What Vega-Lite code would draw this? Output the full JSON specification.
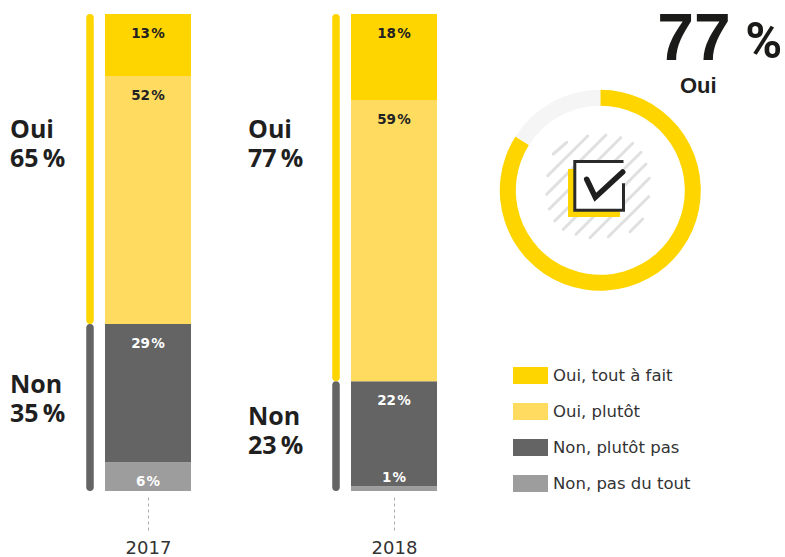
{
"$schema":"https://vega.github.io/schema/vega-lite/v6.json",
"width":785,"height":557,"padding":0,"autosize":"none","background":"white",
"config":{"view":{"stroke":null}},
"datasets":{
"segments":[
{"year":"2017","series":"Non, pas du tout","ord":1,"pct":6,"label":"6\u200a%","group":"Non"},
{"year":"2017","series":"Non, plutôt pas","ord":2,"pct":29,"label":"29\u200a%","group":"Non"},
{"year":"2017","series":"Oui, plutôt","ord":3,"pct":52,"label":"52\u200a%","group":"Oui"},
{"year":"2017","series":"Oui, tout à fait","ord":4,"pct":13,"label":"13\u200a%","group":"Oui"},
{"year":"2018","series":"Non, pas du tout","ord":1,"pct":1,"label":"1\u200a%","group":"Non"},
{"year":"2018","series":"Non, plutôt pas","ord":2,"pct":22,"label":"22\u200a%","group":"Non"},
{"year":"2018","series":"Oui, plutôt","ord":3,"pct":59,"label":"59\u200a%","group":"Oui"},
{"year":"2018","series":"Oui, tout à fait","ord":4,"pct":18,"label":"18\u200a%","group":"Oui"}],
"totals":[
{"year":"2017","group":"Non","ord":1,"share":35,"label":"Non\n35\u2009%"},
{"year":"2017","group":"Oui","ord":2,"share":65,"label":"Oui\n65\u2009%"},
{"year":"2018","group":"Non","ord":1,"share":23,"label":"Non\n23\u2009%"},
{"year":"2018","group":"Oui","ord":2,"share":77,"label":"Oui\n77\u2009%"}],
"ring":[{"answer":"Oui","ord":1,"share":84},{"answer":"Reste","ord":2,"share":16}]
},
"resolve":{"scale":{"x":"independent","y":"independent","color":"independent","fill":"independent","theta":"independent"}},
"layer":[
{"layer":[
 {"data":{"name":"segments"},
  "transform":[{"stack":"pct","groupby":["year"],"sort":[{"field":"ord","order":"ascending"}],"as":["y0","y1"]}],
  "mark":{"type":"bar","width":86},
  "encoding":{
   "x":{"field":"year","type":"nominal","scale":{"type":"point","domain":["2017","2018"],"range":[148,394],"padding":0},
     "axis":{"title":null,"orient":"bottom","offset":-60,"domain":false,"tickSize":33,"tickDash":[3,3],"tickColor":"#aaaaaa","tickWidth":1,"labelPadding":9,"labelAngle":0,"labelFont":"DejaVu Sans","labelFontSize":18,"labelColor":"#333333","grid":false}},
   "y":{"field":"y1","type":"quantitative","scale":{"domain":[-13.84,102.94],"nice":false,"zero":false},"axis":null},
   "y2":{"field":"y0"},
   "color":{"field":"series","type":"nominal",
     "scale":{"domain":["Oui, tout à fait","Oui, plutôt","Non, plutôt pas","Non, pas du tout"],"range":["#FFD500","#FFDC60","#646464","#9D9D9D"]},
     "legend":{"title":null,"orient":"none","legendX":513,"legendY":358,"symbolType":"M-1,-0.486H1V0.486H-1Z","symbolSize":1225,"symbolStrokeWidth":0,"rowPadding":9,"labelOffset":5,"labelFont":"DejaVu Sans","labelFontSize":16.5,"labelColor":"#333333","labelLimit":200}}
  }},
 {"data":{"name":"totals"},
  "transform":[{"stack":"share","groupby":["year"],"sort":[{"field":"ord","order":"ascending"}],"as":["y0","y1"]}],
  "mark":{"type":"bar","width":7.5,"cornerRadius":3.5,"xOffset":-58},
  "encoding":{
   "x":{"field":"year","type":"nominal"},
   "y":{"field":"y1","type":"quantitative"},
   "y2":{"field":"y0"},
   "fill":{"field":"group","type":"nominal","scale":{"domain":["Oui","Non"],"range":["#FFD500","#646464"]},"legend":null}
  }},
 {"data":{"name":"segments"},
  "transform":[{"stack":"pct","groupby":["year"],"sort":[{"field":"ord","order":"ascending"}],"as":["y0","y1"]},{"filter":"datum.pct > 1"}],
  "mark":{"type":"text","dy":20,"font":"DejaVu Sans","fontWeight":"bold","fontSize":13.5,"baseline":"middle"},
  "encoding":{
   "x":{"field":"year","type":"nominal"},
   "y":{"field":"y1","type":"quantitative"},
   "text":{"field":"label"},
   "color":{"condition":{"test":"datum.group === 'Oui'","value":"#222222"},"value":"#ffffff"}
  }},
 {"data":{"name":"segments"},
  "transform":[{"stack":"pct","groupby":["year"],"sort":[{"field":"ord","order":"ascending"}],"as":["y0","y1"]},{"filter":"datum.pct <= 1"}],
  "mark":{"type":"text","dy":-8,"font":"DejaVu Sans","fontWeight":"bold","fontSize":13.5,"baseline":"middle"},
  "encoding":{
   "x":{"field":"year","type":"nominal"},
   "y":{"field":"y1","type":"quantitative"},
   "text":{"field":"label"},
   "color":{"value":"#ffffff"}
  }},
 {"data":{"name":"totals"},"transform":[{"filter":"datum.year === '2017' && datum.group === 'Oui'"}],
  "mark":{"type":"text","dx":-138,"align":"left","baseline":"alphabetic","lineBreak":"\n","lineHeight":29,"font":"Open Sans","fontWeight":"bold","fontSize":25,"color":"#1f1f1f"},
  "encoding":{"x":{"field":"year","type":"nominal"},"y":{"datum":74},"text":{"field":"label"}}},
 {"data":{"name":"totals"},"transform":[{"filter":"datum.year === '2017' && datum.group === 'Non'"}],
  "mark":{"type":"text","dx":-138,"align":"left","baseline":"alphabetic","lineBreak":"\n","lineHeight":29,"font":"Open Sans","fontWeight":"bold","fontSize":25,"color":"#1f1f1f"},
  "encoding":{"x":{"field":"year","type":"nominal"},"y":{"datum":20.5},"text":{"field":"label"}}},
 {"data":{"name":"totals"},"transform":[{"filter":"datum.year === '2018' && datum.group === 'Oui'"}],
  "mark":{"type":"text","dx":-146,"align":"left","baseline":"alphabetic","lineBreak":"\n","lineHeight":29,"font":"Open Sans","fontWeight":"bold","fontSize":25,"color":"#1f1f1f"},
  "encoding":{"x":{"field":"year","type":"nominal"},"y":{"datum":74},"text":{"field":"label"}}},
 {"data":{"name":"totals"},"transform":[{"filter":"datum.year === '2018' && datum.group === 'Non'"}],
  "mark":{"type":"text","dx":-146,"align":"left","baseline":"alphabetic","lineBreak":"\n","lineHeight":29,"font":"Open Sans","fontWeight":"bold","fontSize":25,"color":"#1f1f1f"},
  "encoding":{"x":{"field":"year","type":"nominal"},"y":{"datum":13.8},"text":{"field":"label"}}}
]},
{"layer":[
 {"data":{"name":"ring"},
  "mark":{"type":"arc","outerRadius":100.5,"innerRadius":84.5},
  "encoding":{
   "x":{"datum":0,"type":"quantitative","scale":{"domain":[-600.3,184.7],"nice":false,"zero":false},"axis":null},
   "y":{"datum":0,"type":"quantitative","scale":{"domain":[-190.3,366.7],"nice":false,"zero":false,"reverse":true},"axis":null},
   "theta":{"field":"share","type":"quantitative","stack":true},
   "order":{"field":"ord"},
   "fill":{"field":"answer","type":"nominal","scale":{"domain":["Oui","Reste"],"range":["#FFD500","#F5F5F5"]},"legend":null}
  }},
 {"data":{"values":[{"part":"hatch"}]},
  "mark":{"type":"point","size":4,"opacity":1,"shape":"M-47,-36.3L-33.6,-48M-52.6,-14.6L-12.6,-54.3M-53.6,4L5.7,-55.3M-51,18.7L20.4,-52.6M-45.6,30.7L32.4,-47M-37,39L40.7,-38M-24.3,44L45.7,-26.3M-10.3,47.4L49,-12M8,46.4L48.4,6.4M29.7,41.4L42.4,28.7","stroke":"#E0E0E0","strokeWidth":3,"strokeCap":"round","fill":null},
  "encoding":{"x":{"datum":0,"type":"quantitative"},"y":{"datum":0,"type":"quantitative"}}},
 {"data":{"values":[{"part":"shadow"}]},
  "mark":{"type":"point","size":4,"opacity":1,"filled":true,"shape":"M-32.3,-21.3H19.7V26.7H-32.3Z","fill":"#FFD500","strokeWidth":0},
  "encoding":{"x":{"datum":0,"type":"quantitative"},"y":{"datum":0,"type":"quantitative"}}},
 {"data":{"values":[{"part":"box"}]},
  "mark":{"type":"point","size":4,"opacity":1,"filled":true,"shape":"M-25.5,-28.8H23.2V19.9H-25.5Z","fill":"#ffffff","strokeWidth":0},
  "encoding":{"x":{"datum":0,"type":"quantitative"},"y":{"datum":0,"type":"quantitative"}}},
 {"data":{"values":[{"part":"frame"}]},
  "mark":{"type":"point","size":4,"opacity":1,"shape":"M23.2,-28.8H-25.5V19.9H23.2V-7","stroke":"#2A2A2A","strokeWidth":3,"fill":null},
  "encoding":{"x":{"datum":0,"type":"quantitative"},"y":{"datum":0,"type":"quantitative"}}},
 {"data":{"values":[{"part":"check"}]},
  "mark":{"type":"point","size":4,"opacity":1,"shape":"M-13.6,-11L-5,7L22.4,-18.3","stroke":"#1F1F1F","strokeWidth":5.5,"strokeCap":"round","fill":null},
  "encoding":{"x":{"datum":0,"type":"quantitative"},"y":{"datum":0,"type":"quantitative"}}},
 {"data":{"values":[{"label":"77"}]},
  "mark":{"type":"text","align":"left","baseline":"alphabetic","font":"Liberation Sans","fontWeight":"bold","fontSize":66,"color":"#1A1A18"},
  "encoding":{"x":{"datum":57,"type":"quantitative"},"y":{"datum":-130.3,"type":"quantitative"},"text":{"field":"label"}}},
 {"data":{"values":[{"label":"%"}]},
  "mark":{"type":"text","align":"left","baseline":"alphabetic","font":"Roboto","fontWeight":"bold","fontSize":50,"color":"#1A1A18"},
  "encoding":{"x":{"datum":145,"type":"quantitative"},"y":{"datum":-132,"type":"quantitative"},"text":{"field":"label"}}},
 {"data":{"values":[{"label":"Oui"}]},
  "mark":{"type":"text","align":"center","baseline":"alphabetic","font":"Liberation Sans","fontWeight":"bold","fontSize":22,"color":"#1F1F1F"},
  "encoding":{"x":{"datum":98,"type":"quantitative"},"y":{"datum":-97,"type":"quantitative"},"text":{"field":"label"}}}
]}
]}
